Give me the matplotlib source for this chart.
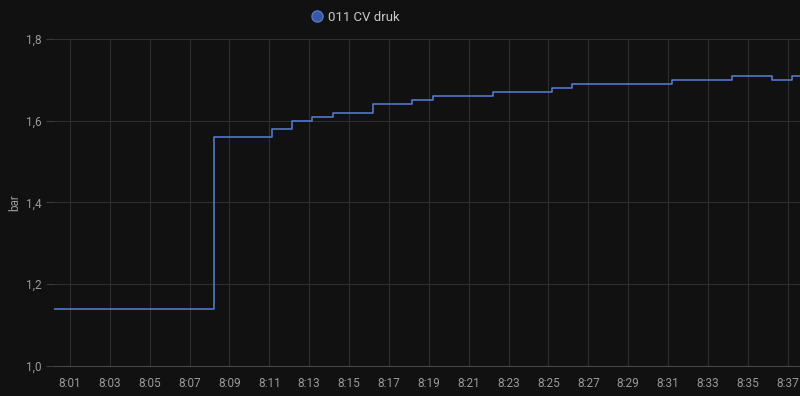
import matplotlib
matplotlib.use("Agg")
import matplotlib.pyplot as plt
import matplotlib.dates as mdates
from matplotlib.lines import Line2D
import pandas as pd

# step changes of the pressure sensor
times = ["08:00:12", "08:08:12", "08:11:08", "08:12:08", "08:13:08", "08:14:11",
         "08:16:12", "08:18:09", "08:19:12", "08:22:12", "08:25:12", "08:26:12",
         "08:31:12", "08:34:12", "08:36:12", "08:37:12", "08:37:37"]
druk = [1.14, 1.56, 1.58, 1.60, 1.61, 1.62,
        1.64, 1.65, 1.66, 1.67, 1.68, 1.69,
        1.70, 1.71, 1.70, 1.71, 1.71]
yticks = [1.0, 1.2, 1.4, 1.6, 1.8]
ylabels = ["1,0", "1,2", "1,4", "1,6", "1,8"]
serie = "011 CV druk"

t = pd.to_datetime(["2024-01-01 " + s for s in times])

plt.rcParams['font.family'] = ['Roboto', 'DejaVu Sans']
bg = '#111111'
fig = plt.figure(figsize=(8, 3.96), dpi=100, facecolor=bg)
ax = fig.add_axes([0.0675, 0.0758, 0.9325, 0.8257], facecolor=bg)

ax.plot(t, druk, drawstyle='steps-post', color='#5277c9', lw=1.2)

ax.set_xlim(t[0], t[-1])
ax.set_ylim(1.0, 1.8)
ax.set_yticks(yticks)
ax.set_yticklabels(ylabels)
ax.xaxis.set_major_locator(mdates.MinuteLocator(byminute=range(1, 60, 2)))
ax.xaxis.set_major_formatter(mdates.DateFormatter('%-H:%M'))

ax.grid(True, color='#2e2e2e', lw=0.8)
for s in ['top', 'right', 'left']:
    ax.spines[s].set_visible(False)
ax.spines['bottom'].set_color('#474747')
ax.tick_params(axis='y', labelcolor='#9a9a9a', color='#3a3a3a', labelsize=8.5,
               length=6, width=0.8, pad=3)
ax.tick_params(axis='x', colors='#9a9a9a', labelsize=8.5, length=0, pad=8)
ax.set_ylabel('bar', color='#9a9a9a', fontsize=8.5)
ax.yaxis.set_label_coords(-0.044, 0.5)

h = Line2D([], [], ls='none', marker='o', markersize=8,
           markerfacecolor='#3a57a3', markeredgecolor='#5277c9')
fig.legend([h], [serie], loc='center', bbox_to_anchor=(0.443, 0.957),
           frameon=False, fontsize=9.5, labelcolor='#c8c8c8',
           handletextpad=0.3, handlelength=1.2)

fig.savefig('out.png', facecolor=bg)
